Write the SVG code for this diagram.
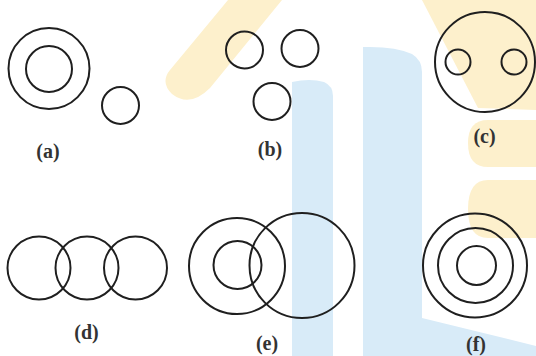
<svg xmlns="http://www.w3.org/2000/svg" width="536" height="356" viewBox="0 0 536 356">
<style>
.c{fill:none;stroke:#1f1f1f;stroke-width:2}
.lbl{font-family:"Liberation Serif","Times New Roman",serif;font-size:20px;fill:#333333;text-anchor:middle;font-weight:bold}
.wy{fill:#fdf0cc}
.wb{fill:#d8ebf8}
</style>
<rect width="536" height="356" fill="#ffffff"/>
<g id="watermark">
<path class="wy" d="M170,70 L228,0 L282,0 L210,88 Q190,108 172,94 Q160,82 170,70 Z"/>
<path class="wy" d="M422,0 L536,0 L536,110 L478,108 Z"/>
<path class="wy" d="M488,120 L536,120 L536,167 L488,167 Q468,167 468,143 Q468,120 488,120 Z"/>
<path class="wy" d="M488,180 L536,180 L536,238 L488,238 Q468,238 468,209 Q468,180 488,180 Z"/>
<path class="wb" d="M292,82 Q310,78 324,82 Q333,86 333,96 L333,356 L292,356 Z"/>
<path class="wb" d="M363,47 Q395,46 412,54 Q422,60 422,72 L422,318 L536,346 L536,356 L363,356 Z"/>
</g>
<g id="a">
<circle class="c" cx="49" cy="68.5" r="40.5"/>
<circle class="c" cx="49" cy="69" r="23"/>
<circle class="c" cx="120.5" cy="105.5" r="18.5"/>
<text class="lbl" x="48" y="158">(a)</text>
</g>
<g id="b">
<circle class="c" cx="244.5" cy="50" r="18.5"/>
<circle class="c" cx="300" cy="48.5" r="18.5"/>
<circle class="c" cx="272" cy="101.5" r="18.5"/>
<text class="lbl" x="270" y="156">(b)</text>
</g>
<g id="c">
<circle class="c" cx="485" cy="62" r="50"/>
<circle class="c" cx="458" cy="62" r="12.5"/>
<circle class="c" cx="514" cy="62" r="12.5"/>
<text class="lbl" x="484.5" y="143">(c)</text>
</g>
<g id="d">
<circle class="c" cx="39" cy="268" r="31.5"/>
<circle class="c" cx="87" cy="268" r="31.5"/>
<circle class="c" cx="135.5" cy="268" r="31.5"/>
<text class="lbl" x="86.5" y="339">(d)</text>
</g>
<g id="e">
<circle class="c" cx="237" cy="266" r="48"/>
<circle class="c" cx="237.5" cy="265" r="24"/>
<circle class="c" cx="302" cy="265.5" r="52.5"/>
<text class="lbl" x="267" y="350">(e)</text>
</g>
<g id="f">
<circle class="c" cx="475" cy="265.5" r="52"/>
<circle class="c" cx="475.5" cy="265.5" r="37.5"/>
<circle class="c" cx="476.5" cy="265.5" r="19.5"/>
<text class="lbl" x="476" y="351">(f)</text>
</g>
</svg>
